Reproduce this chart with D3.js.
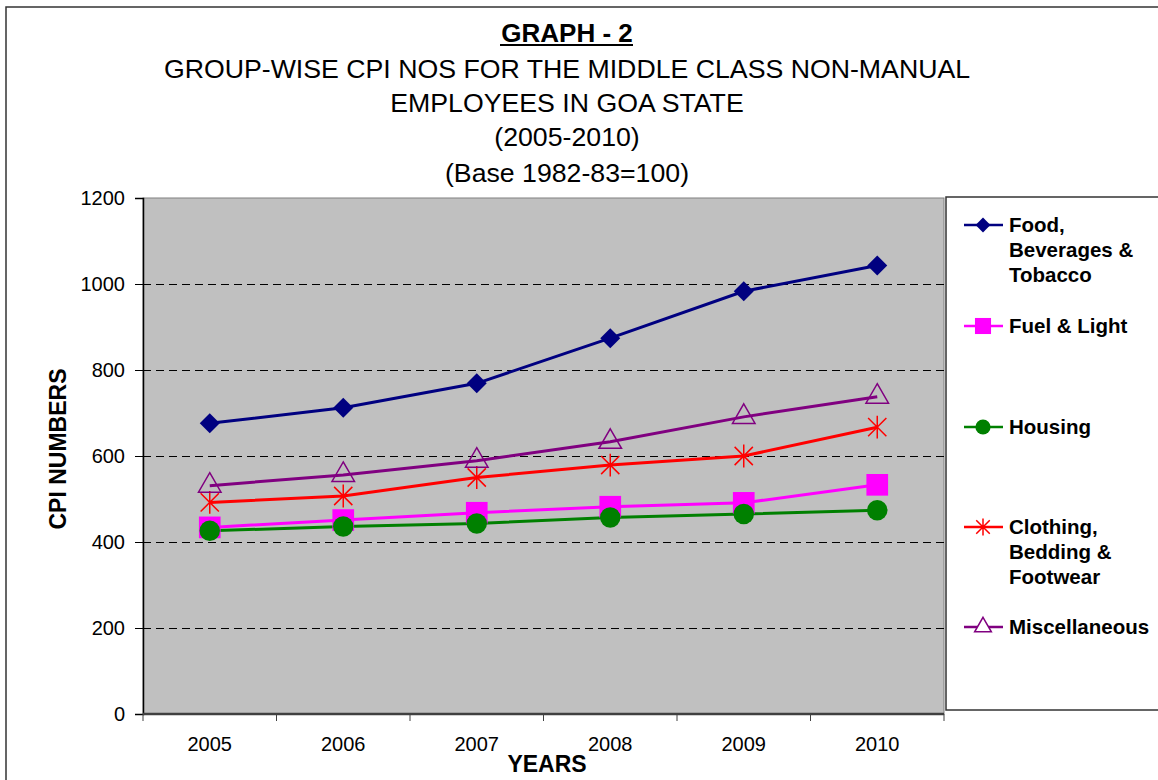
<!DOCTYPE html>
<html>
<head>
<meta charset="utf-8">
<script src="https://cdn.jsdelivr.net/npm/d3@7"></script>
<style>
  body { margin: 0; background: #fff; }
  text { font-family: "Liberation Sans", Arial, sans-serif; fill: #000; }
</style>
</head>
<body>
<script>
// data
var years = ['2005', '2006', '2007', '2008', '2009', '2010'];
var food = [676, 712, 769, 874, 983, 1043];
var fuel = [434, 451, 468, 482, 491, 533];
var housing = [426, 436, 443, 457, 465, 474];
var clothing = [492, 507, 550, 579, 600, 667];
var misc = [531, 556, 589, 633, 691, 738];
var yTicks = [0, 200, 400, 600, 800, 1000, 1200];
var seriesNames = [['Food,', 'Beverages &', 'Tobacco'], ['Fuel & Light'], ['Housing'],
  ['Clothing,', 'Bedding &', 'Footwear'], ['Miscellaneous']];

var W = 1158, H = 780;
var margin = {top: 198, right: 214, bottom: 66, left: 143};
var width = W - margin.left - margin.right,   // 801
    height = H - margin.top - margin.bottom;  // 516

var svg = d3.select('body').append('svg')
    .attr('width', W)
    .attr('height', H);

// outer chart frame
svg.append('rect')
    .attr('x', 6).attr('y', 7)
    .attr('width', W + 20).attr('height', H + 20)
    .attr('fill', '#fff')
    .attr('stroke', '#333').attr('stroke-width', 1.5);

// titles
var titleX = 567;
svg.append('text')
    .attr('x', titleX).attr('y', 42)
    .attr('text-anchor', 'middle')
    .style('font-size', '26px').style('font-weight', 'bold')
    .text('GRAPH - 2');
svg.append('line')
    .attr('x1', 500).attr('x2', 633)
    .attr('y1', 45).attr('y2', 45)
    .attr('stroke', '#000').attr('stroke-width', 2);

var titleLines = ['GROUP-WISE CPI NOS FOR THE MIDDLE CLASS NON-MANUAL',
  'EMPLOYEES IN GOA STATE', '(2005-2010)', '(Base 1982-83=100)'];
var titleBase = [78, 112, 146, 182];
titleLines.forEach(function(t, i) {
  svg.append('text')
      .attr('x', titleX).attr('y', titleBase[i])
      .attr('text-anchor', 'middle')
      .style('font-size', '26.7px')
      .text(t);
});

var g = svg.append('g')
    .attr('transform', 'translate(' + margin.left + ',' + margin.top + ')');

var x = d3.scaleBand().domain(years).range([0, width]);
var y = d3.scaleLinear().domain([0, 1200]).range([height, 0]);

// plot area
g.append('rect')
    .attr('width', width).attr('height', height)
    .attr('fill', '#c0c0c0')
    .attr('stroke', '#808080').attr('stroke-width', 1);

// gridlines
g.selectAll('.grid')
    .data(yTicks.filter(function(d) { return d > 0 && d < 1200; }))
    .enter().append('line')
    .attr('x1', 0).attr('x2', width)
    .attr('y1', function(d) { return y(d); })
    .attr('y2', function(d) { return y(d); })
    .attr('stroke', '#000')
    .attr('shape-rendering', 'crispEdges')
    .attr('stroke-dasharray', '8,5');

// y axis
var yAxis = g.append('g')
    .call(d3.axisLeft(y).tickValues(yTicks).tickFormat(d3.format('d')).tickSize(8).tickPadding(10));
yAxis.select('.domain').attr('stroke', '#000').attr('stroke-width', 1.5);
yAxis.selectAll('.tick line').attr('stroke', '#000');
yAxis.selectAll('text').style('font-size', '20px').attr('fill', '#000');

// x axis, ticks sit between the categories
var xAxis = g.append('g')
    .attr('transform', 'translate(0,' + height + ')');
xAxis.append('line')
    .attr('x1', 0).attr('x2', width)
    .attr('stroke', '#404040').attr('stroke-width', 2.5);
xAxis.selectAll('.xt')
    .data(years.concat(['end']))
    .enter().append('line')
    .attr('x1', function(d, i) { return i * x.step(); })
    .attr('x2', function(d, i) { return i * x.step(); })
    .attr('y1', 0).attr('y2', 7)
    .attr('stroke', '#404040');
xAxis.selectAll('.xl')
    .data(years)
    .enter().append('text')
    .attr('x', function(d) { return x(d) + x.bandwidth() / 2; })
    .attr('y', 37)
    .attr('text-anchor', 'middle')
    .style('font-size', '20px')
    .text(function(d) { return d; });

// axis titles
svg.append('text')
    .attr('x', 547).attr('y', 772)
    .attr('text-anchor', 'middle')
    .style('font-size', '23px').style('font-weight', 'bold')
    .text('YEARS');
svg.append('text')
    .attr('transform', 'translate(58,449) rotate(-90)')
    .attr('text-anchor', 'middle')
    .attr('dominant-baseline', 'central')
    .style('font-size', '23px').style('font-weight', 'bold')
    .text('CPI NUMBERS');

// marker shapes
var asterisk = {
  draw: function(ctx, size) {
    var r = Math.sqrt(size) / 2;
    var d = r * 0.8;
    ctx.moveTo(0, -r); ctx.lineTo(0, r);
    ctx.moveTo(-d, -d); ctx.lineTo(d, d);
    ctx.moveTo(-d, d); ctx.lineTo(d, -d);
  }
};
var diamond = {
  draw: function(ctx, size) {
    var r = Math.sqrt(size / 2);
    ctx.moveTo(0, -r); ctx.lineTo(r, 0); ctx.lineTo(0, r); ctx.lineTo(-r, 0);
    ctx.closePath();
  }
};

var series = [
  {values: food, color: '#000080', symbol: diamond, size: 200, fill: true},
  {values: fuel, color: '#ff00ff', symbol: d3.symbolSquare, size: 470, fill: true},
  {values: housing, color: '#008000', symbol: d3.symbolCircle, size: 330, fill: true},
  {values: clothing, color: '#ff0000', symbol: asterisk, size: 520, fill: false},
  {values: misc, color: '#800080', symbol: d3.symbolTriangle, size: 220, fill: false}
];

var line = d3.line()
    .x(function(d, i) { return x(years[i]) + x.bandwidth() / 2; })
    .y(function(d) { return y(d); });

series.forEach(function(s) {
  g.append('path')
      .datum(s.values)
      .attr('d', line)
      .attr('fill', 'none')
      .attr('stroke', s.color)
      .attr('stroke-width', 3);
});

series.forEach(function(s) {
  g.selectAll(null)
      .data(s.values)
      .enter().append('path')
      .attr('transform', function(d, i) {
        return 'translate(' + (x(years[i]) + x.bandwidth() / 2) + ',' + y(d) + ')';
      })
      .attr('d', d3.symbol().type(s.symbol).size(s.size))
      .attr('fill', s.fill ? s.color : 'none')
      .attr('stroke', s.color)
      .attr('stroke-width', s.fill ? 0 : 1.5);
});

// legend
var lg = svg.append('g');
lg.append('rect')
    .attr('x', 946).attr('y', 197)
    .attr('width', 230).attr('height', 513)
    .attr('fill', '#fff')
    .attr('stroke', '#333').attr('stroke-width', 1.5);

var legendY = [225, 326, 427, 527, 627];
series.forEach(function(s, i) {
  var ly = legendY[i];
  lg.append('line')
      .attr('x1', 964).attr('x2', 1003)
      .attr('y1', ly).attr('y2', ly)
      .attr('stroke', s.color).attr('stroke-width', 2.5);
  lg.append('path')
      .attr('transform', 'translate(983,' + ly + ')')
      .attr('d', d3.symbol().type(s.symbol).size(s.size * 0.55))
      .attr('fill', s.fill ? s.color : '#fff')
      .attr('stroke', s.color)
      .attr('stroke-width', s.fill ? 0 : 1.5);
  seriesNames[i].forEach(function(t, j) {
    lg.append('text')
        .attr('x', 1009).attr('y', ly + 7 + j * 25)
        .style('font-size', '20.5px').style('font-weight', 'bold')
        .text(t);
  });
});
</script>
</body>
</html>
